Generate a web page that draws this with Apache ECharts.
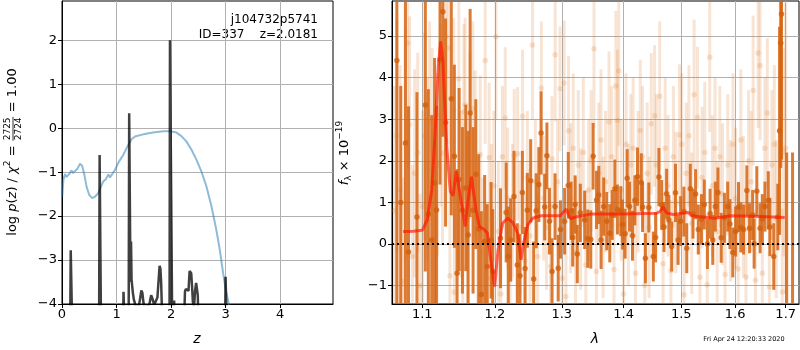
<!DOCTYPE html>
<html>
<head>
<meta charset="utf-8">
<script src="https://cdn.jsdelivr.net/npm/echarts@6.0.0/dist/echarts.min.js"></script>
<style>html,body{margin:0;padding:0;background:#fff}#c{width:800px;height:350px}</style>
</head>
<body>
<div id="c"></div>
<script>
// ---------- LEFT PANEL DATA ----------
const zTicks = [0, 1, 2, 3, 4];
const pTicks = [-4, -3, -2, -1, 0, 1, 2];
// blue curve (chi2-scaled)
const pcZ = [0.005,0.025,0.055,0.08,0.134,0.177,0.20,0.28,0.33,0.37,
  0.41,0.45,0.50,0.555,0.604,0.665,0.71,0.757,0.806,0.85,
  0.88,0.91,0.97,1.044,1.123,1.197,1.276,1.337,1.49,1.67,
  1.855,1.99,2.10,2.19,2.28,2.375,2.467,2.558,2.65,2.74,
  2.83,2.894,2.955,3.004,3.06,3.10];
const pcVal = [-1.56,-1.18,-1.04,-1.11,-1.04,-0.96,-1.02,-0.93,-0.81,-0.86,
  -1.06,-1.33,-1.52,-1.59,-1.56,-1.48,-1.34,-1.21,-1.16,-1.05,
  -1.12,-1.11,-0.95,-0.76,-0.61,-0.42,-0.25,-0.19,-0.14,-0.10,
  -0.07,-0.07,-0.10,-0.18,-0.30,-0.49,-0.72,-0.99,-1.33,-1.77,
  -2.31,-2.77,-3.30,-3.68,-4.0,-4.3];
// black log p(z)
const pzZ = [0.00,0.150,0.160,0.178,0.188, 0.680,0.690,0.706,0.716, 1.118,1.128,1.140,1.150,
  1.222,1.232,1.245,1.256,1.266,1.276,1.288,1.300,1.318,1.345,
  1.370,1.400,1.430,1.455,1.475,1.495,1.515,1.535,1.560,1.600,
  1.635,1.660,1.690,1.720,1.750,1.775,1.790,1.805,1.818,1.832,1.850,
  1.972,1.980,2.008,2.022, 2.050,2.057,2.064,
  2.235,2.255,2.270,2.285,2.300,2.320,2.340,2.355,2.370,2.385,
  2.400,2.420,2.440,2.460,2.475,2.490,2.505,2.520,
  2.990,3.000,3.012,3.022];
const pzLog = [-4.6,-4.6,-2.78,-2.78,-4.6, -4.6,-0.61,-0.62,-4.6, -4.6,-3.72,-3.75,-4.6,
  -4.6,0.34,0.30,-3.50,-2.58,-3.45,-3.60,-3.75,-3.90,-4.02,
  -3.98,-4.10,-3.90,-3.69,-3.75,-3.98,-4.10,-4.6,-4.05,-4.02,
  -3.80,-3.88,-4.02,-3.98,-3.85,-3.40,-3.13,-3.20,-3.50,-4.10,-4.6,
  -4.6,2.0,2.0,-4.6, -4.6,-3.92,-4.6,
  -4.6,-3.72,-3.66,-3.70,-3.62,-3.70,-3.25,-3.22,-3.30,-3.60,
  -3.95,-4.10,-3.70,-3.52,-3.50,-3.80,-4.6,-4.6,
  -4.6,-3.38,-3.40,-4.6];

// ---------- RIGHT PANEL DATA ----------
const lamTicks = [1.1, 1.2, 1.3, 1.4, 1.5, 1.6, 1.7];
const fTicks = [-1, 0, 1, 2, 3, 4, 5];
const darkLam = [1.067,1.072,1.078,1.082,1.093,1.104,1.108,1.1125,1.1163,1.119,
  1.1236,1.1274,1.1311,1.1389,1.1431,1.1468,1.1496,1.1542,1.1589,1.1621,
  1.1649,1.169,1.1728,1.1769,1.1806,1.1853,1.1889,1.1944,1.1968,1.208,
  1.2163,1.2193,1.2228,1.2277,1.2326,1.2366,1.2401,1.2441,1.2475,1.2525,
  1.257,1.2608,1.2648,1.2682,1.2737,1.2771,1.281,1.285,1.2896,1.2945,
  1.298,1.3045,1.3102,1.3146,1.3172,1.321,1.3244,1.3292,1.3362,1.3411,
  1.346,1.3498,1.3553,1.359,1.3627,1.367,1.372,1.377,1.381,1.3854,
  1.3897,1.3952,1.398,1.4025,1.406,1.410,1.415,1.419,1.4235,1.4299,
  1.4322,1.437,1.4429,1.4507,1.4547,1.4605,1.4653,1.4694,1.474,1.478,
  1.483,1.4897,1.4944,1.499,1.5048,1.510,1.5164,1.5213,1.526,1.531,
  1.5368,1.542,1.5479,1.5528,1.5578,1.5626,1.5675,1.5736,1.5797,1.5859,
  1.5902,1.5956,1.601,1.6066,1.611,1.6163,1.6227,1.628,1.634,1.6369,
  1.6422,1.6486,1.653,1.6583,1.6649,1.6681,1.6759,1.684,1.6876,1.690,
  1.6915,1.702,1.714];
const darkF = [4.41,1.0,2.43,-0.19,0.65,3.34,0.72,0.10,1.47,0.82,
  4.43,5.58,2.92,3.49,2.11,-0.70,1.55,0.81,1.35,0.22,
  3.15,0.81,1.68,0.36,-1.21,0.06,-0.54,0.09,-0.66,0.14,
  0.76,-0.30,0.10,1.14,-0.50,-0.76,1.24,-0.59,0.81,1.52,
  -0.84,0.80,1.43,2.67,0.89,2.12,0.55,-0.66,0.90,-0.58,
  0.35,0.55,1.41,0.80,0.16,0.95,-0.24,0.75,0.58,0.13,
  0.11,2.11,1.06,1.18,0.10,0.90,0.55,0.26,0.70,1.33,
  0.83,0.79,0.47,0.25,1.58,0.90,0.20,1.05,1.62,1.48,
  0.89,-0.34,0.88,-0.30,0.16,1.61,0.94,0.41,1.21,0.58,
  -0.06,1.23,0.10,0.55,0.78,-0.10,1.33,0.73,1.20,0.35,
  0.60,0.95,0.00,0.73,0.10,0.90,1.24,0.15,0.63,0.90,
  0.48,-0.20,0.30,0.89,0.40,0.35,1.29,0.38,0.70,0.01,
  1.27,0.38,0.60,0.90,1.05,0.41,-0.30,0.65,2.72,4.83,
  5.53,-2.0,-2.0];
const darkErr = [6,2.8,4,3.5,3,4,3,3,3,2.5,
  3,3,2.5,2.8,2.2,2.5,2.2,2,2,2.5,
  2.5,2,1.8,1.8,2,1.6,1.5,1.4,1.5,1.2,
  1.2,1.2,1.0,1.1,1.0,1.0,1.0,1.0,0.9,1.0,
  0.9,0.9,0.9,1.0,0.8,0.8,0.8,0.8,0.8,0.8,
  0.7,0.8,0.8,0.7,0.7,0.7,0.7,0.7,0.7,0.7,
  0.7,0.8,0.7,0.7,0.7,0.7,0.7,0.7,0.6,0.7,
  0.6,0.6,0.6,0.6,0.7,0.6,0.6,0.6,0.7,0.7,
  0.6,0.6,0.6,0.6,0.6,0.7,0.6,0.6,0.6,0.6,
  0.6,0.7,0.6,0.6,0.6,0.6,0.6,0.6,0.6,0.6,
  0.6,0.6,0.6,0.6,0.6,0.6,0.6,0.6,0.6,0.6,
  0.6,0.6,0.6,0.6,0.6,0.6,0.6,0.6,0.6,0.6,
  0.6,0.6,0.6,0.6,0.7,0.7,0.8,0.8,2.5,3,
  3.5,4.2,4.2];
const lightLam = [1.064,1.067,1.071,1.075,1.078,1.081,1.0834,1.087,1.090,1.094,
  1.097,1.1005,1.1033,1.1065,1.1097,1.1131,1.117,1.120,1.1245,1.127,
  1.1315,1.1347,1.137,1.1422,1.143,1.1492,1.1525,1.1547,1.1561,1.1579,
  1.161,1.1645,1.1686,1.172,1.1755,1.179,1.1825,1.1861,1.1894,1.1917,
  1.195,1.1985,1.2015,1.205,1.2085,1.2108,1.2149,1.2185,1.222,1.2255,
  1.2281,1.2331,1.2365,1.2404,1.244,1.2475,1.2515,1.2552,1.2595,1.263,
  1.2686,1.272,1.2765,1.2826,1.2849,1.2898,1.2935,1.2972,1.3005,1.3037,
  1.3065,1.3107,1.314,1.318,1.3216,1.326,1.3297,1.334,1.338,1.3425,
  1.3465,1.3512,1.355,1.359,1.3625,1.366,1.370,1.3757,1.380,1.384,
  1.387,1.3898,1.3919,1.396,1.400,1.404,1.408,1.412,1.416,1.420,
  1.4245,1.4282,1.432,1.436,1.440,1.4435,1.4471,1.453,1.456,1.4618,
  1.4678,1.4715,1.4765,1.4815,1.486,1.4905,1.497,1.501,1.505,1.509,
  1.514,1.519,1.5234,1.5295,1.534,1.538,1.543,1.5475,1.5521,1.557,
  1.562,1.566,1.571,1.576,1.581,1.586,1.591,1.596,1.601,1.606,
  1.611,1.616,1.621,1.626,1.631,1.635,1.6395,1.6447,1.6486,1.653,
  1.658,1.663,1.667,1.672,1.677,1.681,1.6875,1.6889,1.693,1.696,
  1.700];
const lightF = [0.8,2.6,1.3,-0.9,2.4,4.83,2.87,-0.3,1.7,2.2,
  -1.0,0.9,2.6,1.8,2.95,2.41,0.3,1.9,3.1,2.19,
  4.99,4.71,-0.76,3.23,-1.16,3.97,1.2,-0.59,3.18,3.34,
  0.6,2.6,3.25,2.17,0.2,2.15,-0.2,4.41,-0.82,2.08,
  0.6,1.4,4.98,0.3,-1.2,2.10,3.03,1.1,-0.85,0.8,
  2.13,2.17,0.4,3.07,-0.4,1.6,0.2,4.78,1.5,-0.3,
  3.75,1.1,0.4,-0.54,2.05,4.55,1.5,3.73,-0.82,3.87,
  -1.26,2.72,1.1,2.3,-0.2,1.9,0.6,2.2,-0.5,1.3,
  2.0,4.69,-0.66,1.7,2.5,0.4,1.5,2.93,2.1,-0.61,
  3.80,2.97,4.16,1.3,-1.2,2.4,0.7,1.9,2.3,-0.7,
  1.5,2.73,2.1,-0.99,1.7,0.4,2.89,3.08,1.9,3.55,
  -0.47,2.3,1.4,-0.64,2.1,1.0,2.62,2.4,-1.22,1.7,
  2.6,0.5,3.59,3.04,-0.8,1.6,2.2,-0.98,4.49,1.4,
  2.3,0.3,2.1,1.2,-0.73,1.9,0.8,2.4,1.1,-0.6,
  2.5,0.9,-0.79,2.0,1.5,3.69,-0.87,4.59,4.29,-0.7,
  2.3,3.15,-1.03,1.9,2.4,0.6,2.71,4.85,-1.15,2.2,
  2.3];
const lightErr = [3,2.8,3,2.5,2.8,3,2.6,2.2,2.5,2.4,
  2.2,2.3,2.5,2.2,2.4,2.3,2.2,2.2,2.2,2.2,
  2.4,2.3,2.0,2.2,2.0,2.2,2.0,2.0,2.1,2.1,
  2.0,2.0,2.1,2.0,1.9,1.9,1.8,2.0,1.8,1.8,
  1.8,1.8,2.0,1.7,1.7,1.7,1.7,1.7,1.6,1.6,
  1.6,1.6,1.6,1.6,1.6,1.6,1.6,1.8,1.5,1.5,
  1.6,1.5,1.5,1.5,1.5,1.6,1.5,1.5,1.5,1.5,
  1.8,1.8,1.8,1.8,1.8,1.8,1.7,1.8,1.8,1.7,
  1.7,1.9,1.7,1.7,1.7,1.7,1.7,1.7,1.7,1.7,
  1.8,1.7,1.8,1.7,1.7,1.7,1.7,1.7,1.7,1.7,
  1.7,1.7,1.7,1.7,1.7,1.7,1.7,1.7,1.7,1.8,
  1.7,1.7,1.7,1.7,1.7,1.7,1.7,1.7,1.7,1.7,
  1.7,1.7,1.8,1.7,1.7,1.7,1.7,1.7,1.8,1.7,
  1.7,1.7,1.7,1.7,1.7,1.7,1.7,1.7,1.7,1.7,
  1.7,1.7,1.7,1.7,1.7,1.8,1.7,1.8,1.8,1.7,
  1.7,1.8,1.7,1.8,1.9,1.9,2.2,2.5,2.0,2.5,
  3.5];
const modelLam = [1.075,1.088,1.100,1.1065,1.1125,1.117,1.1213,1.1244,1.1274,1.1297,
  1.1329,1.1375,1.1413,1.1458,1.1506,1.1551,1.1579,1.1621,1.1667,1.1732,
  1.1778,1.1847,1.1894,1.194,1.1996,1.2045,1.211,1.2184,1.2258,1.2332,
  1.2382,1.2421,1.2481,1.2555,1.2678,1.2975,1.307,1.3135,1.3216,1.346,
  1.40,1.4561,1.4619,1.4678,1.4736,1.4854,1.5123,1.5184,1.5614,1.592,
  1.65,1.698];
const modelF = [0.30,0.31,0.33,0.58,1.30,2.67,4.27,4.87,4.43,3.47,
  2.30,1.26,1.16,1.75,1.23,0.74,0.42,1.07,1.62,0.82,
  0.42,0.35,0.26,-0.38,-1.02,-0.14,0.50,0.62,0.52,0.26,
  -0.38,0.03,0.46,0.62,0.68,0.68,0.84,0.61,0.65,0.72,
  0.72,0.74,0.78,0.89,0.75,0.71,0.76,0.68,0.62,0.68,
  0.66,0.64];

// ---------- HELPERS ----------
const FONT = 'DejaVu Sans';
const LAM_MIN = 1.0608, LAM_MAX = 1.7273;
const F_MIN = -1.44, F_MAX = 5.84;
const ln = Math.log;
const minusFmt = v => (v < 0 ? '\u2212' + Math.abs(v) : String(v));

function errRender(color, width) {
  return function (params, api) {
    const x = api.value(0), y = api.value(1), e = api.value(2);
    let lo = y - e, hi = y + e;
    if (hi < F_MIN || lo > F_MAX) return null;
    lo = Math.max(lo, F_MIN); hi = Math.min(hi, F_MAX);
    const p1 = api.coord([x, lo]), p2 = api.coord([x, hi]);
    return { type: 'line', shape: { x1: p1[0], y1: p1[1], x2: p2[0], y2: p2[1] },
      style: { stroke: color, lineWidth: width } };
  };
}

const mctx = document.createElement('canvas').getContext('2d');
function measure(t, font) { mctx.font = font; return mctx.measureText(t).width; }
function rotatedLabel(cx, cy, segs) {
  const widths = segs.map(s => s.frac
    ? Math.max(measure(s.frac[0], s.font), measure(s.frac[1], s.font)) + 2
    : measure(s.t, s.font));
  const total = widths.reduce((a, b) => a + b, 0);
  let x = -total / 2;
  const children = [];
  segs.forEach((s, i) => {
    const w = widths[i];
    if (s.frac) {
      children.push({ type: 'text', x: x + w / 2, y: -5.5, style: { text: s.frac[0], font: s.font, fill: '#000', align: 'center', verticalAlign: 'middle' } });
      children.push({ type: 'text', x: x + w / 2, y: 5.5, style: { text: s.frac[1], font: s.font, fill: '#000', align: 'center', verticalAlign: 'middle' } });
      children.push({ type: 'line', shape: { x1: x + 0.5, y1: 0, x2: x + w - 0.5, y2: 0 }, style: { stroke: '#000', lineWidth: 0.8 } });
    } else {
      children.push({ type: 'text', x: x, y: s.dy || 0, style: { text: s.t, font: s.font, fill: '#000', align: 'left', verticalAlign: 'middle' } });
    }
    x += w;
  });
  return { type: 'group', x: cx, y: cy, rotation: Math.PI / 2, children: children, silent: true };
}

const N13 = '13px "DejaVu Sans"', I13 = 'italic 13px "DejaVu Sans"', S9 = '9px "DejaVu Sans"';

const chart = echarts.init(document.getElementById('c'), null, { renderer: 'canvas' });

const axisCommon = {
  axisLine: { show: true, onZero: false, lineStyle: { color: '#000', width: 1 } },
  splitLine: { show: true, lineStyle: { color: '#b0b0b0', width: 1 } },
};

chart.setOption({
  animation: false,
  grid: [
    { left: 62, top: 1, width: 271, height: 303, show: true, borderColor: '#000', borderWidth: 1 },
    { left: 392, top: 1, width: 407, height: 303, show: true, borderColor: '#000', borderWidth: 1 }
  ],
  xAxis: [
    Object.assign({ gridIndex: 0, type: 'value', min: 0, max: 4.97,
      axisTick: { show: true, length: 4, customValues: zTicks, lineStyle: { color: '#000' } },
      axisLabel: { customValues: zTicks, fontSize: 13, fontFamily: FONT, color: '#000', margin: 4 } }, axisCommon),
    Object.assign({ gridIndex: 1, type: 'value', min: ln(LAM_MIN), max: ln(LAM_MAX),
      axisTick: { show: true, length: 4, customValues: lamTicks.map(ln), lineStyle: { color: '#000' } },
      axisLabel: { customValues: lamTicks.map(ln), fontSize: 13, fontFamily: FONT, color: '#000', margin: 4,
        formatter: v => Math.exp(v).toFixed(1) } }, axisCommon)
  ],
  yAxis: [
    Object.assign({ gridIndex: 0, type: 'value', min: -4, max: 2.894,
      axisTick: { show: true, length: 4, customValues: pTicks, lineStyle: { color: '#000' } },
      axisLabel: { customValues: pTicks, fontSize: 13, fontFamily: FONT, color: '#000', margin: 5, formatter: minusFmt } }, axisCommon),
    Object.assign({ gridIndex: 1, type: 'value', min: F_MIN, max: F_MAX,
      axisTick: { show: true, length: 4, customValues: fTicks, lineStyle: { color: '#000' } },
      axisLabel: { customValues: fTicks, fontSize: 13, fontFamily: FONT, color: '#000', margin: 5, formatter: minusFmt } }, axisCommon)
  ],
  series: [
    { type: 'line', xAxisIndex: 0, yAxisIndex: 0, showSymbol: false, silent: true,
      data: pcZ.map((z, i) => [z, pcVal[i]]),
      lineStyle: { color: 'rgba(31,119,180,0.5)', width: 2 } },
    { type: 'line', xAxisIndex: 0, yAxisIndex: 0, showSymbol: false, silent: true,
      data: pzZ.map((z, i) => [z, pzLog[i]]),
      lineStyle: { color: 'rgba(0,0,0,0.75)', width: 2.5 } },
    { type: 'custom', xAxisIndex: 1, yAxisIndex: 1, silent: true, clip: true,
      renderItem: errRender('rgba(222,120,40,0.2)', 3),
      data: lightLam.map((l, i) => [ln(l), lightF[i], lightErr[i]]) },
    { type: 'scatter', xAxisIndex: 1, yAxisIndex: 1, silent: true, symbolSize: 5.5,
      itemStyle: { color: 'rgba(222,120,40,0.25)' },
      data: lightLam.map((l, i) => [ln(l), lightF[i]]) },
    { type: 'custom', xAxisIndex: 1, yAxisIndex: 1, silent: true, clip: true,
      renderItem: errRender('rgba(214,100,16,0.85)', 3),
      data: darkLam.map((l, i) => [ln(l), darkF[i], darkErr[i]]) },
    { type: 'scatter', xAxisIndex: 1, yAxisIndex: 1, silent: true, symbolSize: 5.5,
      itemStyle: { color: '#d2600c' },
      data: darkLam.map((l, i) => [ln(l), darkF[i]]) },
    { type: 'line', xAxisIndex: 1, yAxisIndex: 1, showSymbol: false, silent: true,
      data: modelLam.map((l, i) => [ln(l), modelF[i]]),
      lineStyle: { color: 'rgba(255,20,0,0.65)', width: 3 },
      markLine: { silent: true, symbol: 'none', label: { show: false },
        lineStyle: { color: '#000', type: [2, 3], width: 2 },
        data: [{ yAxis: 0 }] } }
  ],
  graphic: [
    { type: 'text', x: 318, y: 20, silent: true, style: { text: 'j104732p5741', font: '12px "DejaVu Sans"', fill: '#000', align: 'right', verticalAlign: 'middle' } },
    { type: 'text', x: 318, y: 34.5, silent: true, style: { text: 'ID=337    z=2.0181', font: '12px "DejaVu Sans"', fill: '#000', align: 'right', verticalAlign: 'middle' } },
    { type: 'text', x: 197, y: 339, silent: true, style: { text: 'z', font: 'italic 14px "DejaVu Sans"', fill: '#000', align: 'center', verticalAlign: 'middle' } },
    { type: 'text', x: 595, y: 339, silent: true, style: { text: '\u03bb', font: 'italic 14px "DejaVu Sans"', fill: '#000', align: 'center', verticalAlign: 'middle' } },
    { type: 'text', x: 744, y: 339, silent: true, style: { text: 'Fri Apr 24 12:20:33 2020', font: '6.5px "DejaVu Sans"', fill: '#000', align: 'center', verticalAlign: 'middle' } },
    rotatedLabel(13, 152, [
      { t: 'log ', font: N13 }, { t: 'p', font: I13 }, { t: '(', font: N13 }, { t: 'z', font: I13 },
      { t: ') / ', font: N13 }, { t: '\u03c7', font: I13 }, { t: '2', font: S9, dy: -5 },
      { t: ' = ', font: N13 }, { frac: ['2725', '2724'], font: S9 }, { t: ' = 1.00', font: N13 }
    ]),
    rotatedLabel(345, 153, [
      { t: 'f', font: I13 }, { t: '\u03bb', font: S9, dy: 3.5 }, { t: ' \u00d7 10', font: N13 },
      { t: '\u221219', font: S9, dy: -5 }
    ])
  ]
});
</script>
</body>
</html>
